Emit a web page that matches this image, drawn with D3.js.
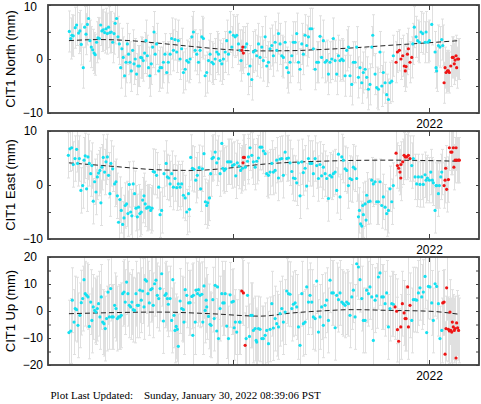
<!DOCTYPE html>
<html><head><meta charset="utf-8">
<script src="https://cdn.jsdelivr.net/npm/d3@7"></script>
<style>html,body{margin:0;padding:0;background:#fff;}svg{display:block;}</style>
</head><body>
<svg id="chart" width="481" height="404"></svg>
<script>
// ---------------- DATA ----------------
const xTickValues = [2021, 2022];
const xTickLabels = ["", "2022"];
const panelTitles = ["CIT1 North (mm)", "CIT1 East (mm)", "CIT1 Up (mm)"];
const yDomains = [[-10, 10], [-10, 10], [-20, 20]];
const yTicksNorth = [-10, -5, 0, 5, 10];
const yTicksEast = [-10, -5, 0, 5, 10];
const yTicksUp = [-20, -15, -10, -5, 0, 5, 10, 15, 20];
const sigmas = [3.8, 4.2, 12];   // error bar half-lengths (mm)

// North (cyan: final solutions, red: rapid solutions)
const northDates = [2020.165,2020.172,2020.178,2020.185,2020.195,2020.202,2020.212,2020.219,2020.226,2020.236,2020.243,2020.250,2020.257,2020.263,2020.270,2020.277,2020.284,2020.291,2020.297,2020.304,2020.311,2020.318,2020.325,2020.331,2020.338,2020.345,2020.352,2020.359,2020.365,2020.372,2020.379,2020.386,2020.393,2020.399,2020.406,2020.413,2020.420,2020.427,2020.433,2020.440,2020.447,2020.454,2020.461,2020.467,2020.474,2020.481,2020.488,2020.495,2020.501,2020.508,2020.515,2020.522,2020.529,2020.535,2020.542,2020.549,2020.556,2020.563,2020.569,2020.576,2020.583,2020.590,2020.597,2020.603,2020.610,2020.621,
2020.628,2020.636,2020.645,2020.653,2020.662,2020.670,2020.679,2020.687,2020.696,2020.704,2020.713,2020.721,2020.730,2020.738,2020.747,2020.756,2020.764,2020.773,2020.781,2020.790,2020.798,2020.807,2020.815,2020.824,2020.832,2020.841,2020.849,2020.858,2020.866,2020.875,2020.883,2020.892,2020.900,2020.909,2020.917,2020.926,2020.934,2020.943,2020.951,2020.960,2020.968,2020.977,2020.985,2020.994,2021.002,2021.011,2021.019,2021.028,2021.036,2021.041,2021.062,2021.070,2021.079,2021.087,2021.096,2021.104,2021.113,2021.121,2021.130,2021.138,2021.147,2021.155,2021.164,2021.172,2021.181,2021.189,2021.198,2021.206,2021.215,2021.223,2021.232,2021.240,2021.249,2021.257,2021.266,2021.274,2021.283,2021.291,2021.300,2021.308,2021.317,2021.325,2021.334,2021.342,2021.351,2021.359,2021.368,2021.376,2021.385,2021.393,2021.402,2021.410,2021.419,2021.427,2021.436,
2021.444,2021.452,2021.461,2021.470,2021.478,2021.487,2021.495,2021.504,2021.512,2021.521,2021.529,2021.538,2021.546,2021.555,2021.563,2021.572,2021.580,2021.589,2021.597,2021.606,2021.614,2021.623,2021.631,2021.640,2021.648,2021.657,2021.665,2021.674,2021.682,2021.691,2021.699,2021.708,2021.713,2021.725,2021.733,2021.742,2021.750,2021.759,2021.767,2021.776,2021.784,2021.793,2021.801,2021.810,2021.818,
2021.917,2021.925,2021.934,2021.942,2021.951,2021.959,2021.968,2021.980,2021.985,2021.993,2022.002,2022.014,2022.031,2022.036,2022.039,2022.048,2022.056,2022.065,2022.070];
const northValues = [5.1,3.8,4.4,4.3,5.8,6.3,4.8,5.2,2.7,-1.6,5.9,4.6,6.4,7.5,3.4,2.2,1.7,1.1,0.8,3.1,3.9,3.8,6.3,5.2,5.4,4.9,5.6,4.7,5.9,4.9,5.0,3.1,4.7,6.6,7.5,4.1,2.8,-1.6,1.9,0.3,-3.1,-0.6,2.8,0.9,-0.6,-2.2,1.6,-0.9,0.0,-2.8,-1.3,-1.3,0.3,0.2,-0.3,1.1,3.4,0.6,-1.6,-3.1,-0.9,2.2,5.0,0.9,2.8,-2.2,
-1.6,-1.6,-0.6,0.9,-2.5,-0.6,0.9,3.8,1.6,3.6,1.3,3.4,0.0,1.9,-2.5,-1.9,-0.3,-0.6,0.0,4.1,5.0,1.6,0.9,-0.6,1.6,4.1,3.8,-3.1,-2.5,-0.3,0.9,-0.6,-0.9,0.0,1.3,0.9,-0.3,-0.9,0.0,1.3,3.4,0.9,5.0,2.2,4.4,4.1,4.4,2.8,1.6,-0.3,2.2,2.8,-2.8,-1.3,-3.8,1.3,1.6,0.6,2.8,0.3,2.2,-0.3,4.1,-1.3,-0.6,1.9,2.5,0.6,3.1,1.6,4.7,2.8,0.6,0.3,3.1,-1.6,-2.5,-0.6,0.6,3.1,3.1,4.7,-0.6,-1.9,2.8,0.9,4.4,2.5,4.1,5.6,5.6,1.9,-1.9,-0.6,-0.6,
4.2,0.3,3.4,-0.6,-0.3,-2.8,-0.6,0.0,3.8,-0.3,-2.8,0.6,-0.3,0.0,-0.3,-3.1,1.6,2.2,-3.1,-4.7,-0.6,-0.6,2.2,-3.4,-1.6,-4.4,-2.5,-1.9,-3.4,-5.6,-4.7,2.2,4.4,-2.8,-5.3,-5.6,1.3,-5.0,-2.5,-4.4,-6.6,-7.5,-4.4,-4.1,0.6,
2.8,5.9,4.1,3.4,3.1,5.0,4.7,3.1,5.0,3.1,3.4,6.4,1.3,-1.6,-2.2,2.5,2.2,3.6,2.5];
const northRapidDates = [2021.045,2021.050,2021.053,2021.832,2021.839,2021.849,2021.857,2021.866,2021.874,2021.879,2021.883,2021.890,2021.895,2021.903,2021.912,2022.077,2022.082,2022.087,2022.094,2022.099,2022.104,2022.111,2022.119,2022.124,2022.129,2022.133,2022.138,2022.141,2022.146,2022.151];
const northRapidValues = [1.6,2.2,1.1,-0.6,1.3,1.6,0.0,0.6,-1.3,-2.2,-1.4,0.9,1.9,-0.6,0.3,-4.4,-1.6,-2.5,-2.2,-2.2,-2.5,-1.3,0.3,0.3,-0.9,-0.2,0.6,-1.6,0.0,0.0];
const northTrendDates = [2020.163,2020.321,2020.474,2020.628,2020.796,2020.969,2021.138,2021.306,2021.444,2021.612,2021.786,2021.954,2022.153];
const northTrendValues = [3.4,3.6,3.4,2.9,2.3,1.75,1.5,1.55,1.75,2.06,2.5,2.9,3.4];

// East
const eastDates = [2020.160,2020.168,2020.177,2020.185,2020.194,2020.202,2020.207,2020.216,2020.224,2020.233,2020.240,2020.246,2020.253,2020.260,2020.267,2020.274,2020.280,2020.287,2020.294,2020.301,2020.308,2020.314,2020.321,2020.326,2020.331,2020.338,2020.345,2020.352,2020.359,2020.365,2020.372,2020.377,2020.386,2020.396,2020.403,2020.410,2020.416,2020.423,2020.430,2020.437,2020.444,2020.450,2020.457,2020.464,2020.471,2020.478,2020.484,2020.491,2020.498,2020.505,2020.512,2020.518,2020.525,2020.532,2020.539,2020.546,2020.552,2020.559,2020.566,2020.573,2020.580,2020.587,2020.593,2020.600,2020.610,2020.621,
2020.628,2020.636,2020.648,2020.659,2020.665,2020.672,2020.679,2020.687,2020.696,2020.704,2020.713,2020.721,2020.730,2020.738,2020.747,2020.756,2020.764,2020.773,2020.778,2020.784,2020.793,2020.801,2020.810,2020.818,2020.827,2020.835,2020.844,2020.852,2020.859,2020.866,2020.871,2020.880,2020.886,2020.893,2020.900,2020.909,2020.917,2020.926,2020.934,2020.943,2020.948,2020.955,2020.963,2020.972,2020.980,2020.989,2020.997,2021.006,2021.014,2021.022,2021.031,2021.039,2021.048,2021.063,2021.074,2021.079,2021.087,2021.096,2021.104,2021.113,2021.121,2021.130,2021.138,2021.147,2021.155,2021.164,2021.172,2021.181,2021.189,2021.198,2021.206,2021.215,2021.223,2021.232,2021.240,2021.249,2021.257,2021.266,2021.274,2021.283,2021.291,2021.300,2021.308,2021.317,2021.325,2021.334,2021.342,2021.351,2021.359,2021.368,2021.376,2021.385,2021.393,2021.402,2021.410,2021.419,2021.427,2021.436,
2021.444,2021.452,2021.461,2021.470,2021.478,2021.487,2021.495,2021.504,2021.512,2021.521,2021.529,2021.538,2021.546,2021.555,2021.563,2021.572,2021.580,2021.589,2021.597,2021.606,2021.614,2021.623,2021.631,2021.640,2021.645,2021.651,2021.657,2021.662,2021.665,2021.674,2021.679,2021.682,2021.691,2021.699,2021.708,2021.716,2021.725,2021.733,2021.742,2021.750,2021.759,2021.767,2021.776,2021.784,2021.793,2021.801,2021.810,2021.818,
2021.912,2021.920,2021.929,2021.937,2021.946,2021.954,2021.963,2021.971,2021.980,2021.985,2021.992,2022.002,2022.009,2022.017,2022.022,2022.031,2022.036,2022.039,2022.048,2022.053,2022.060,2022.065];
const eastValues = [5.5,6.7,6.9,3.8,4.9,6.6,4.0,4.9,-1.0,-0.1,4.6,5.4,-0.7,5.2,4.0,2.1,3.6,-3.0,0.6,-1.3,1.5,2.2,2.7,-3.3,3.3,5.1,2.4,4.3,5.2,1.8,-1.6,4.0,3.0,0.2,0.6,-2.0,-6.9,-2.7,-4.7,-7.3,-6.1,-3.8,-3.5,-5.3,0.1,-5.0,-5.7,0.2,-1.6,-4.3,-5.9,-4.1,-5.3,-5.0,-2.8,-2.0,-3.5,-4.3,-4.1,-4.1,-4.7,-4.3,2.5,2.4,1.8,-0.4,
-5.5,-4.7,2.1,4.0,1.5,1.3,0.2,2.1,-0.4,1.2,-0.5,0.2,-0.4,0.2,-1.9,-2.4,-5.0,-1.6,-4.5,5.1,3.1,2.9,0.9,1.8,3.2,-0.7,3.0,5.8,-3.1,-3.8,-3.3,-2.4,2.1,4.9,5.1,6.1,4.1,4.9,2.1,7.7,3.1,2.7,3.0,4.3,4.3,4.3,3.6,3.8,1.7,4.1,3.5,2.7,3.1,3.3,4.4,5.2,6.9,5.5,4.3,3.3,4.4,5.0,7.0,7.0,6.3,5.8,2.1,1.8,2.4,4.0,2.4,2.7,4.6,1.3,4.8,4.9,1.8,6.1,4.9,5.0,4.1,2.5,1.3,1.2,0.4,4.1,-2.0,4.3,2.3,3.1,-0.2,4.9,4.0,4.0,2.1,4.9,3.6,1.2,
3.8,1.7,3.3,2.1,1.2,-2.5,1.8,1.5,2.1,2.4,-1.0,5.7,-2.2,5.2,4.6,3.0,2.7,-0.1,1.2,1.0,3.3,3.0,1.2,-5.9,-4.7,-7.2,-7.6,-3.8,-5.5,-3.5,-6.5,-1.9,-3.1,-3.0,0.9,0.2,0.6,-3.1,-3.1,0.6,-3.8,-2.2,-4.1,-5.3,-4.7,-0.7,-3.1,-0.1,
3.6,4.9,1.5,0.2,1.5,0.1,1.5,0.1,1.9,0.9,1.3,0.9,2.4,0.9,0.4,-4.7,-0.1,-0.1,-1.6,-0.1,1.5,2.4];
const eastRapidDates = [2021.051,2021.053,2021.058,2021.832,2021.839,2021.845,2021.852,2021.856,2021.857,2021.866,2021.873,2021.879,2021.886,2021.895,2021.903,2022.077,2022.082,2022.085,2022.090,2022.099,2022.104,2022.111,2022.117,2022.124,2022.127,2022.133,2022.138,2022.141,2022.150,2022.155];
const eastRapidValues = [4.1,5.1,5.1,5.9,3.6,3.1,2.4,1.3,3.8,4.3,5.5,5.2,5.2,5.5,4.9,-0.1,0.9,3.1,-0.8,1.0,6.9,6.1,6.1,6.9,3.3,4.6,6.9,4.6,4.6,4.6];
const eastTrendDates = [2020.163,2020.372,2020.628,2020.796,2020.969,2021.138,2021.444,2021.786,2022.153];
const eastTrendValues = [4.1,3.5,2.8,2.7,3.1,3.8,4.4,4.6,4.4];

// Up
const upDates = [2020.163,2020.172,2020.180,2020.189,2020.195,2020.202,2020.209,2020.219,2020.226,2020.233,2020.240,2020.246,2020.253,2020.260,2020.267,2020.274,2020.280,2020.287,2020.294,2020.301,2020.308,2020.314,2020.321,2020.328,2020.335,2020.342,2020.348,2020.355,2020.362,2020.369,2020.376,2020.382,2020.389,2020.396,2020.403,2020.410,2020.416,2020.423,2020.430,2020.437,2020.444,2020.450,2020.457,2020.464,2020.471,2020.478,2020.484,2020.491,2020.498,2020.505,2020.512,2020.518,2020.525,2020.532,2020.539,2020.546,2020.552,2020.559,2020.566,2020.573,2020.580,2020.587,2020.593,2020.600,2020.607,2020.614,2020.621,
2020.628,2020.636,2020.645,2020.653,2020.659,2020.665,2020.670,2020.679,2020.687,2020.693,2020.699,2020.704,2020.710,2020.716,2020.721,2020.730,2020.738,2020.747,2020.750,2020.756,2020.764,2020.773,2020.781,2020.790,2020.795,2020.798,2020.807,2020.812,2020.819,2020.824,2020.832,2020.841,2020.846,2020.852,2020.858,2020.863,2020.866,2020.875,2020.883,2020.888,2020.897,2020.904,2020.909,2020.917,2020.921,2020.926,2020.934,2020.943,2020.948,2020.955,2020.960,2020.968,2020.977,2020.985,2020.994,2021.002,2021.006,2021.012,2021.019,2021.033,2021.036,2021.067,2021.074,2021.084,2021.091,2021.098,2021.104,2021.113,2021.118,2021.121,2021.130,2021.138,2021.147,2021.155,2021.164,2021.172,2021.181,2021.189,2021.198,2021.206,2021.215,2021.223,2021.232,2021.240,2021.249,2021.257,2021.266,2021.274,2021.283,2021.291,2021.300,2021.308,2021.317,2021.325,2021.334,2021.342,2021.351,2021.359,2021.368,2021.376,2021.385,2021.393,2021.402,2021.410,2021.419,2021.427,2021.436,
2021.444,2021.452,2021.461,2021.470,2021.478,2021.487,2021.495,2021.504,2021.512,2021.521,2021.529,2021.538,2021.546,2021.555,2021.563,2021.572,2021.580,2021.589,2021.597,2021.606,2021.614,2021.623,2021.631,2021.640,2021.648,2021.657,2021.665,2021.674,2021.682,2021.691,2021.699,2021.708,2021.716,2021.725,2021.733,2021.742,2021.750,2021.759,2021.767,2021.776,2021.784,2021.793,2021.801,2021.810,2021.818,
2021.912,2021.920,2021.929,2021.937,2021.946,2021.954,2021.963,2021.971,2021.980,2021.988,2021.997,2022.005,2022.014,2022.022,2022.031,2022.039,2022.048,2022.056,2022.065];
const upValues = [-8.0,-7.4,4.0,-4.1,0.9,0.5,-5.3,-1.6,3.1,4.6,11.6,6.4,5.8,5.2,-5.7,3.3,-3.5,1.5,0.2,-0.4,0.9,2.7,-2.2,5.2,-4.1,-4.7,-6.5,-2.8,7.0,-2.2,8.3,-2.2,-2.2,2.1,0.9,-2.8,-2.2,-2.2,-1.6,6.4,7.0,3.3,10.7,6.4,2.1,1.5,3.3,0.5,0.2,6.4,2.1,2.1,7.7,4.0,7.4,1.5,11.6,11.1,6.4,3.0,7.9,8.3,2.1,10.1,11.4,5.8,4.6,
8.3,13.8,-3.7,5.8,6.4,4.6,2.5,4.6,-3.5,11.6,-1.6,-7.2,-5.7,-6.8,-13.1,3.7,0.9,0.5,-4.1,7.9,5.8,3.0,3.1,5.4,-9.0,5.8,-4.1,7.7,6.4,7.9,5.8,6.2,-4.1,9.3,0.2,4.0,1.5,-2.0,-4.9,-5.3,4.2,-2.8,9.5,-7.4,8.9,-10.2,0.9,6.4,3.0,3.0,6.4,-5.6,-10.2,6.0,3.3,3.6,-6.2,-4.1,-7.8,-4.1,-4.1,-10.2,5.8,-9.4,-1.6,-1.6,-7.2,-6.5,-10.9,-11.5,-6.5,-6.8,-10.2,-10.2,-9.0,-7.2,-12.1,-6.8,2.7,-6.3,-2.8,-4.7,-5.9,-1.0,0.9,-4.1,-0.4,7.4,6.4,6.2,0.9,2.5,3.0,1.5,-5.9,-12.7,6.4,-4.7,-4.1,8.9,3.3,5.8,3.3,-2.2,-2.8,11.1,-7.8,
-2.2,1.5,-5.3,2.1,4.0,-3.5,11.4,6.7,6.7,-6.2,5.8,4.2,6.7,3.3,2.7,2.1,3.3,2.7,-1.6,5.2,7.7,-2.2,17.5,16.3,11.6,4.6,-3.5,-3.5,7.7,6.4,8.9,5.2,-10.9,4.0,5.6,12.6,14.1,5.2,5.2,2.7,6.7,-5.9,0.9,2.7,2.5,
-3.5,4.2,4.2,4.0,6.7,8.6,5.2,7.0,12.8,-8.0,9.1,8.9,3.0,-3.5,10.1,9.1,2.7,-10.2,-7.2];
const upRapidDates = [2021.045,2021.053,2021.062,2021.827,2021.835,2021.839,2021.845,2021.856,2021.864,2021.873,2021.878,2021.883,2021.891,2021.895,2021.903,2022.070,2022.077,2022.082,2022.087,2022.090,2022.099,2022.104,2022.107,2022.111,2022.116,2022.119,2022.124,2022.129,2022.133,2022.138,2022.141,2022.146,2022.151];
const upRapidValues = [7.4,6.7,-12.7,1.5,-0.1,-6.9,-11.2,-5.9,2.7,-0.7,-2.8,-2.8,8.9,-5.9,2.1,3.0,3.3,-16.0,-6.5,8.6,-6.8,-7.4,-0.4,-7.2,-7.8,-4.1,-5.9,-7.2,-6.5,-17.4,-4.4,-6.2,-7.2];
const upTrendDates = [2020.163,2020.628,2020.883,2021.138,2021.306,2021.444,2021.612,2021.786,2022.005,2022.153];
const upTrendValues = [-1.0,-0.4,-1.0,-1.9,-0.7,0.0,0.5,0.25,-0.1,-1.2];

const footerText = "Plot Last Updated:    Sunday, January 30, 2022 08:39:06 PST";

// ---------------- DRAW ----------------
const zip = (a, b) => d3.range(Math.min(a.length, b.length)).map(i => ({t: a[i], v: b[i]}));
const panels = [
  {final: zip(northDates, northValues), rapid: zip(northRapidDates, northRapidValues), trend: zip(northTrendDates, northTrendValues), ticks: yTicksNorth},
  {final: zip(eastDates, eastValues), rapid: zip(eastRapidDates, eastRapidValues), trend: zip(eastTrendDates, eastTrendValues), ticks: yTicksEast},
  {final: zip(upDates, upValues), rapid: zip(upRapidDates, upRapidValues), trend: zip(upTrendDates, upTrendValues), ticks: yTicksUp}
];

const svg = d3.select("#chart");
const X0 = 48, X1 = 479, PH = 108;
const tops = [5, 131, 257];
const frameColor = "#404040";
const x = d3.scaleLinear().domain([2020.0561, 2022.2551]).range([X0, X1]);

panels.forEach((p, i) => {
  const top = tops[i], bot = top + PH;
  const y = d3.scaleLinear().domain(yDomains[i]).range([bot, top]);
  const s = sigmas[i];
  const clipId = "clip" + i;
  svg.append("clipPath").attr("id", clipId).append("rect")
    .attr("x", X0).attr("y", top).attr("width", X1 - X0).attr("height", PH);
  const g = svg.append("g").attr("clip-path", `url(#${clipId})`);
  const all = p.final.concat(p.rapid);
  // error bars
  const eb = g.append("g").attr("stroke", "#e0e0e0").attr("stroke-width", 1).attr("fill", "none");
  eb.selectAll("path").data(all).join("path")
    .attr("d", d => {
      const xx = Math.round(x(d.t)) + 0.5, y1 = y(d.v + s), y2 = y(d.v - s);
      return `M${xx},${y1}V${y2}M${xx - 1.5},${y1}h3M${xx - 1.5},${y2}h3`;
    });
  // trend
  g.append("path").datum(p.trend)
    .attr("d", d3.line().x(d => x(d.t)).y(d => y(d.v)).curve(d3.curveMonotoneX))
    .attr("fill", "none").attr("stroke", "#222").attr("stroke-width", 1)
    .attr("stroke-dasharray", "5,3");
  // points
  g.append("g").selectAll("circle").data(p.final).join("circle")
    .attr("cx", d => x(d.t)).attr("cy", d => y(d.v)).attr("r", 1.6).attr("fill", "#14e0f0");
  g.append("g").selectAll("circle").data(p.rapid).join("circle")
    .attr("cx", d => x(d.t)).attr("cy", d => y(d.v)).attr("r", 1.6).attr("fill", "#ee1515");

  // axes
  const fmt = d3.format("d");
  const yl = svg.append("g").attr("transform", `translate(${X0},0)`)
    .call(d3.axisLeft(y).tickValues(p.ticks).tickSize(-3).tickPadding(5)
      .tickFormat(d => d % 10 === 0 ? fmt(d) : ""));
  const yr = svg.append("g").attr("transform", `translate(${X1},0)`)
    .call(d3.axisRight(y).tickValues(p.ticks).tickSize(-3).tickFormat(""));
  const xb = svg.append("g").attr("transform", `translate(0,${bot})`)
    .call(d3.axisBottom(x).tickValues(xTickValues).tickSize(-5).tickPadding(6)
      .tickFormat((d, k) => xTickLabels[k]));
  const xt = svg.append("g").attr("transform", `translate(0,${top})`)
    .call(d3.axisTop(x).tickValues(xTickValues).tickSize(-5).tickFormat(""));
  [yl, yr, xb, xt].forEach(a => {
    a.select(".domain").remove();
    a.selectAll("line").attr("stroke", frameColor);
    a.selectAll("text").attr("font-family", "'Liberation Sans', Arial, sans-serif")
      .attr("font-size", 12).attr("fill", "#000");
  });
  yl.selectAll(".tick text").filter(d => d > 0).attr("x", -11);
  if (i === 0) yl.selectAll(".tick text").filter(d => d === yDomains[0][1]).attr("y", 1.5);

  // frame
  svg.append("rect").attr("x", X0).attr("y", top).attr("width", X1 - X0).attr("height", PH)
    .attr("fill", "none").attr("stroke", frameColor).attr("stroke-width", 1.8);

  // title
  svg.append("text")
    .attr("transform", `translate(10,${top + PH / 2}) rotate(-90)`)
    .attr("text-anchor", "middle").attr("dominant-baseline", "central")
    .attr("font-family", "'Liberation Sans', Arial, sans-serif").attr("font-size", 13)
    .text(panelTitles[i]);
});

svg.append("text").attr("x", 50.5).attr("y", 399)
  .attr("font-family", "'Liberation Serif', 'Times New Roman', serif").attr("font-size", 11)
  .attr("xml:space", "preserve").style("white-space", "pre")
  .text(footerText);
</script>
</body></html>
